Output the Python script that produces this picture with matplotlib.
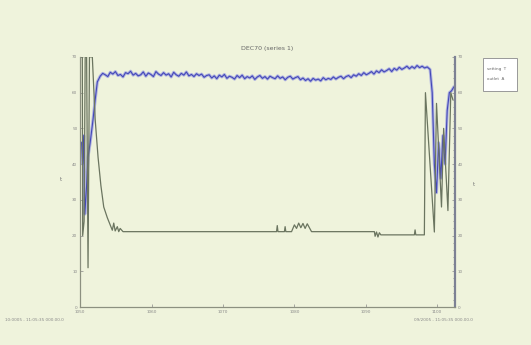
import numpy as np
import matplotlib.pyplot as plt
from matplotlib.patches import Rectangle

# outlet temperature (blue), hand
lead_x = [1050.2, 1050.35, 1050.5, 1050.65, 1050.9, 1051.1, 1051.4, 1051.8, 1052.1, 1052.4]
lead_y = [46.0, 40.0, 48.0, 26.0, 34.0, 42.0, 46.0, 52.5, 58.0, 63.0]

body_start = 1052.8
body_step = 0.355
body_y = [
    64.6, 65.4, 65.0, 64.5, 65.7, 65.2, 65.9, 64.8, 65.1, 64.4, 65.6, 65.3, 66.0, 64.9,
    65.4, 64.7, 65.0, 65.8, 64.6, 65.5, 65.1, 64.5, 65.9, 65.2, 64.8, 65.6, 64.9, 65.3,
    64.4, 65.7, 65.0, 64.6, 65.4, 64.9, 65.8, 64.7, 65.1, 64.5, 65.3, 64.8,
    65.2, 64.3, 64.8, 65.0, 64.1, 64.7, 63.9, 64.9, 64.4, 65.1, 64.0, 64.6, 64.3, 63.8,
    64.8, 64.2, 64.9, 63.9, 64.5, 64.1, 64.7, 63.7, 64.4, 64.8, 64.0, 64.5, 63.8, 64.6,
    64.2, 63.9, 64.7, 64.0, 64.4, 63.6, 64.3, 64.6, 63.8, 64.2, 64.5,
    63.6, 64.1, 63.4, 63.9, 63.2, 64.0, 63.5, 63.8, 63.3, 64.2, 63.6, 64.0, 63.7, 64.4,
    63.8, 64.3, 64.6, 63.9, 64.5, 64.8,
    64.2, 65.0, 64.6, 65.3, 64.8, 65.6, 65.0, 65.4, 65.9, 65.2, 66.1, 65.6, 66.4, 65.8,
    66.2, 66.7, 65.9, 66.8, 66.3, 67.1, 66.5, 66.9, 67.4, 66.7, 67.3, 66.8, 67.6, 67.0,
    67.4, 66.9, 67.2,
]

tail_x = [1099.0, 1099.3, 1099.6, 1099.9, 1100.2, 1100.5, 1100.8, 1101.1, 1101.4, 1101.7, 1102.0, 1102.3]
tail_y = [66.5, 60.0, 40.0, 32.0, 46.0, 36.0, 48.0, 40.0, 55.0, 60.0, 60.5, 61.5]

# setting value (green), hand read
green_x = [1050.1, 1050.3, 1050.35, 1050.55, 1050.7, 1050.9, 1051.1, 1051.3, 1051.5, 1051.7,
           1052.1, 1052.5, 1052.9, 1053.3, 1053.8, 1054.2, 1054.5, 1054.7, 1054.9, 1055.2,
           1055.4, 1055.6, 1056.0, 1077.5, 1077.6, 1077.7, 1078.6, 1078.7, 1078.8, 1079.6,
           1080.0, 1080.3, 1080.6, 1080.9, 1081.2, 1081.5, 1081.8, 1082.1, 1082.4, 1083.0,
           1091.2, 1091.3, 1091.5, 1091.7, 1091.9, 1092.1, 1096.8, 1096.9, 1097.0, 1098.2,
           1098.35, 1099.6, 1099.9, 1100.6, 1100.9, 1101.5, 1101.9, 1102.2]
green_y = [70.0, 70.0, 20.0, 24.0, 70.0, 70.0, 11.0, 70.0, 70.0, 70.0,
           52.5, 42.0, 34.0, 28.0, 25.0, 23.0, 21.5, 23.5, 21.3, 22.5,
           21.1, 22.0, 21.1, 21.1, 22.8, 21.1, 21.1, 22.5, 21.1, 21.1,
           23.0, 22.0, 23.5, 22.2, 23.4, 22.0, 23.3, 22.2, 21.1, 21.1,
           21.1, 19.8, 21.0, 19.6, 20.8, 20.2, 20.2, 21.6, 20.2, 20.2,
           60.0, 21.0, 57.0, 28.0, 50.0, 27.0, 60.0, 58.0]

x_ticks = [1050, 1060, 1070, 1080, 1090, 1100]
x_labels = ['1050', '1060', '1070', '1080', '1090', '1100']
left_ticks = [0, 10, 20, 30, 40, 50, 60, 70]
right_ticks = [0, 10, 20, 30, 40, 50, 60, 70]

blue_x = lead_x + list(body_start + body_step * np.arange(len(body_y))) + tail_x
blue_y = lead_y + body_y + tail_y

bg = '#eff3dc'
fig = plt.figure(figsize=(5.31, 3.45), dpi=100, facecolor=bg)
ax = fig.add_axes([0.151, 0.110, 0.706, 0.725], facecolor=bg)

ax.plot(blue_x, blue_y, color='#a9ade0', lw=2.2, alpha=0.9)
ax.plot(blue_x, blue_y, color='#4448b8', lw=0.8)
ax.plot(green_x, green_y, color='#6b7560', lw=0.9)

ax.set_xlim(1050, 1102.5)
ax.set_ylim(0, 70)
ax.set_xticks(x_ticks)
ax.set_xticklabels(x_labels)
ax.set_yticks(left_ticks)
ax.set_ylabel('t', fontsize=4, color='#777777', rotation=0, labelpad=8)
ax.set_title('DEC70 (series 1)', fontsize=4.5, color='#666666', pad=5)
ax.tick_params(labelsize=3, colors='#888888', length=2, width=0.5, direction='in', pad=2)

ax2 = ax.twinx()
ax2.set_ylim(0, 70)
ax2.set_yticks(right_ticks)
ax2.set_yticks(np.arange(0, 71, 2), minor=True)
ax2.set_ylabel('t', fontsize=4, color='#777777', rotation=0, labelpad=8)
ax2.tick_params(labelsize=3, colors='#888888', length=2, width=0.5, direction='in', pad=2)
ax2.tick_params(which='minor', length=1.2, width=0.5, direction='in', colors='#777777')

for a in (ax, ax2):
    a.spines['top'].set_visible(False)
    a.spines['left'].set_color('#8c9080')
    a.spines['bottom'].set_color('#8c9080')
    a.spines['left'].set_linewidth(0.8)
    a.spines['bottom'].set_linewidth(0.8)
ax.spines['right'].set_visible(False)
ax2.spines['right'].set_color('#7d8194')
ax2.spines['right'].set_linewidth(1.6)

fig.text(0.01, 0.07, '10:0005 - 11:05:35 000.00.0', fontsize=3, color='#888888')
fig.text(0.78, 0.07, '09/2005 - 11:05:35 000.00.0', fontsize=3, color='#888888')

# legend box
fig.patches.append(Rectangle((0.910, 0.737), 0.064, 0.095, transform=fig.transFigure,
                             facecolor='white', edgecolor='#999999', linewidth=0.7))
fig.text(0.918, 0.80, 'setting  T', fontsize=3, color='#666666', va='center')
fig.text(0.918, 0.772, 'outlet  A', fontsize=3, color='#666666', va='center')

fig.savefig('out.png', dpi=100, facecolor=bg)
